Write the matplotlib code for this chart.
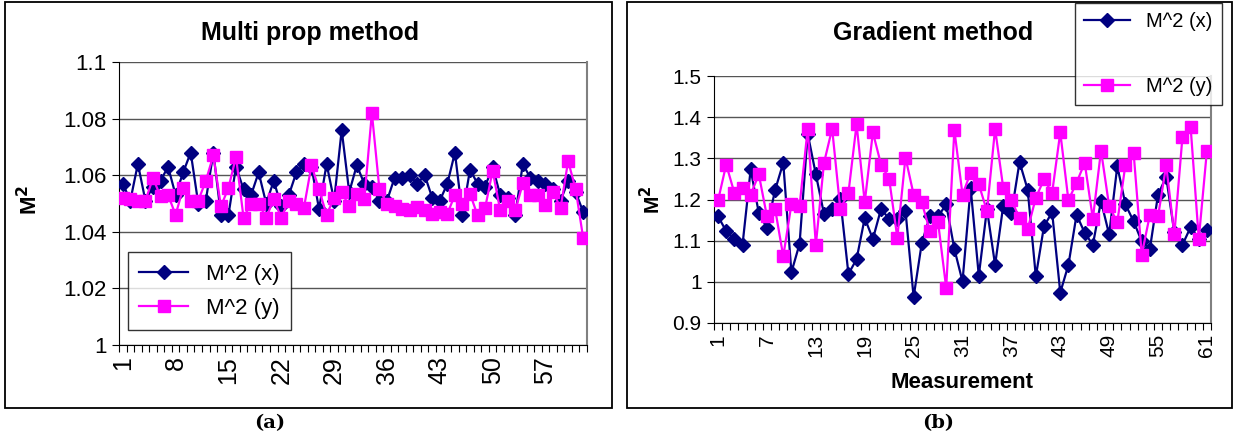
import matplotlib
matplotlib.use('Agg')
import matplotlib.pyplot as plt
from matplotlib.patches import Rectangle
from matplotlib.ticker import FixedLocator

plt.rcParams['font.family'] = ['Liberation Sans', 'DejaVu Sans']

# ---- data ----
multi_x = [1.057, 1.051, 1.064, 1.051, 1.056, 1.058, 1.063, 1.053, 1.061, 1.068,
           1.050, 1.051, 1.068, 1.046, 1.046, 1.063, 1.055, 1.053, 1.061, 1.050,
           1.058, 1.049, 1.053, 1.061, 1.064, 1.063, 1.048, 1.064, 1.051, 1.076,
           1.054, 1.0635, 1.057, 1.056, 1.051, 1.051, 1.059, 1.059, 1.060, 1.057,
           1.060, 1.052, 1.051, 1.057, 1.068, 1.046, 1.062, 1.057, 1.056, 1.063,
           1.053, 1.052, 1.046, 1.064, 1.059, 1.058, 1.057, 1.055, 1.051, 1.058,
           1.054, 1.047]
multi_y = [1.052, 1.0515, 1.051, 1.051, 1.059, 1.0525, 1.053, 1.046, 1.0555, 1.051,
           1.051, 1.058, 1.067, 1.049, 1.0555, 1.0665, 1.045, 1.050, 1.050, 1.045,
           1.0515, 1.045, 1.051, 1.050, 1.0485, 1.0635, 1.055, 1.046, 1.052, 1.054,
           1.049, 1.0535, 1.0515, 1.082, 1.055, 1.050, 1.049, 1.048, 1.0476, 1.0488,
           1.0476, 1.0464, 1.047, 1.0464, 1.053, 1.050, 1.0535, 1.0458, 1.0484, 1.0616,
           1.0476, 1.0508, 1.0476, 1.0571, 1.053, 1.053, 1.0494, 1.0541, 1.0484, 1.065,
           1.055, 1.0377]
grad_x = [1.159, 1.123, 1.104, 1.090, 1.273, 1.167, 1.131, 1.223, 1.289, 1.023,
          1.092, 1.360, 1.261, 1.165, 1.176, 1.201, 1.019, 1.055, 1.155, 1.104,
          1.177, 1.153, 1.153, 1.173, 0.963, 1.094, 1.159, 1.159, 1.188, 1.080,
          1.001, 1.228, 1.015, 1.177, 1.041, 1.185, 1.166, 1.291, 1.224, 1.013,
          1.135, 1.169, 0.974, 1.041, 1.163, 1.119, 1.090, 1.196, 1.115, 1.281,
          1.188, 1.147, 1.098, 1.080, 1.212, 1.255, 1.120, 1.090, 1.133, 1.105,
          1.125]
grad_y = [1.198, 1.285, 1.216, 1.228, 1.212, 1.261, 1.159, 1.177, 1.062, 1.188,
          1.184, 1.372, 1.090, 1.289, 1.372, 1.177, 1.216, 1.383, 1.193, 1.363,
          1.285, 1.250, 1.107, 1.302, 1.212, 1.193, 1.123, 1.145, 0.985, 1.369,
          1.212, 1.265, 1.237, 1.172, 1.372, 1.228, 1.198, 1.155, 1.128, 1.204,
          1.249, 1.216, 1.363, 1.198, 1.241, 1.289, 1.153, 1.319, 1.184, 1.145,
          1.285, 1.314, 1.066, 1.163, 1.159, 1.283, 1.115, 1.353, 1.376, 1.104,
          1.319]

multi_yticks = [1.0, 1.02, 1.04, 1.06, 1.08, 1.1]
multi_ylabels = ['1', '1.02', '1.04', '1.06', '1.08', '1.1']
grad_yticks = [0.9, 1.0, 1.1, 1.2, 1.3, 1.4, 1.5]
grad_ylabels = ['0.9', '1', '1.1', '1.2', '1.3', '1.4', '1.5']
multi_xticks = list(range(1, 63, 7))
grad_xticks = list(range(1, 62, 6))

NAVY = '#000080'
MAGENTA = '#FF00FF'

W, H = 1237, 438
fig = plt.figure(figsize=(W / 100, H / 100), dpi=100)


def fx(px):
    return px / W


def fy(py):
    return 1 - py / H


def excel_axes(rect, xs, ys, yticks, ylabels, xticks, ylim, tick_fs, xtick_fs):
    ax = fig.add_axes(rect)
    n = len(xs)
    pos = list(range(1, n + 1))
    ax.plot(pos, xs, '-D', color=NAVY, markersize=7.5, linewidth=1.6,
            markeredgecolor=NAVY, label='M^2 (x)', zorder=3)
    ax.plot(pos, ys, '-s', color=MAGENTA, markersize=9, linewidth=1.6,
            markeredgecolor=MAGENTA, label='M^2 (y)', zorder=3)
    ax.set_xlim(0.5, n + 0.5)
    ax.set_ylim(*ylim)
    ax.set_yticks(yticks)
    ax.set_yticklabels(ylabels, fontsize=tick_fs)
    for t in yticks:
        ax.axhline(t, color='#555555', linewidth=1.0, zorder=1)
    ax.set_xticks(xticks)
    ax.set_xticklabels([str(t) for t in xticks], rotation=90, fontsize=xtick_fs)
    ax.xaxis.set_minor_locator(FixedLocator([p + 0.5 for p in range(0, n + 1)]))
    ax.tick_params(axis='x', which='major', length=0, pad=8)
    ax.tick_params(axis='x', which='minor', length=5, width=0.8, direction='out')
    ax.tick_params(axis='y', length=5, width=0.8, direction='out', pad=4)
    ax.spines['left'].set_color('black')
    ax.spines['bottom'].set_color('black')
    ax.spines['top'].set_visible(False)
    ax.spines['right'].set_color('#808080')
    ax.spines['right'].set_linewidth(1.5)
    return ax


# left panel
ax1 = excel_axes([fx(119), fy(345), fx(587) - fx(119), fy(62) - fy(345)],
                 multi_x, multi_y, multi_yticks, multi_ylabels, multi_xticks,
                 (1.0, 1.1), 16, 18)
fig.text(fx(30), fy(200), 'M$^\\mathbf{2}$', rotation=90, ha='center', va='center',
         fontsize=16, fontweight='bold')
fig.text(fx(310), fy(33), 'Multi prop method', ha='center', va='center',
         fontsize=18, fontweight='bold')
h, l = ax1.get_legend_handles_labels()
leg1 = fig.legend(h, l, loc='lower left', bbox_to_anchor=(fx(128), fy(330)),
                  fontsize=16, frameon=True, fancybox=False, edgecolor='black',
                  handlelength=2.2, borderpad=0.5, labelspacing=0.6,
                  borderaxespad=0)
leg1.get_frame().set_linewidth(1.0)

# right panel
ax2 = excel_axes([fx(714), fy(323), fx(1211) - fx(714), fy(76) - fy(323)],
                 grad_x, grad_y, grad_yticks, grad_ylabels, grad_xticks,
                 (0.9, 1.5), 15, 15)
fig.text(fx(652), fy(200), 'M$^\\mathbf{2}$', rotation=90, ha='center', va='center',
         fontsize=15, fontweight='bold')
fig.text(fx(962), fy(382), 'Measurement', ha='center', va='center',
         fontsize=16, fontweight='bold')
fig.text(fx(933), fy(33), 'Gradient method', ha='center', va='center',
         fontsize=18, fontweight='bold')
h, l = ax2.get_legend_handles_labels()
leg2 = fig.legend(h, l, loc='upper left', bbox_to_anchor=(fx(1075), fy(3)),
                  fontsize=14.5, frameon=True, fancybox=False, edgecolor='black',
                  handlelength=2.3, borderpad=0.45, labelspacing=2.3,
                  borderaxespad=0)
leg2.get_frame().set_linewidth(1.0)

# panel frames
for x0, x1 in [(5, 612), (627, 1232)]:
    fig.patches.append(Rectangle((fx(x0), fy(408)), fx(x1) - fx(x0), fy(2) - fy(408),
                                 transform=fig.transFigure, fill=False,
                                 edgecolor='black', linewidth=1.3))

fig.text(fx(270), fy(423), '(a)', ha='center', va='center', fontsize=14,
         fontweight='bold', family='DejaVu Serif')
fig.text(fx(938), fy(423), '(b)', ha='center', va='center', fontsize=14,
         fontweight='bold', family='DejaVu Serif')

fig.savefig('out.png', dpi=100)
